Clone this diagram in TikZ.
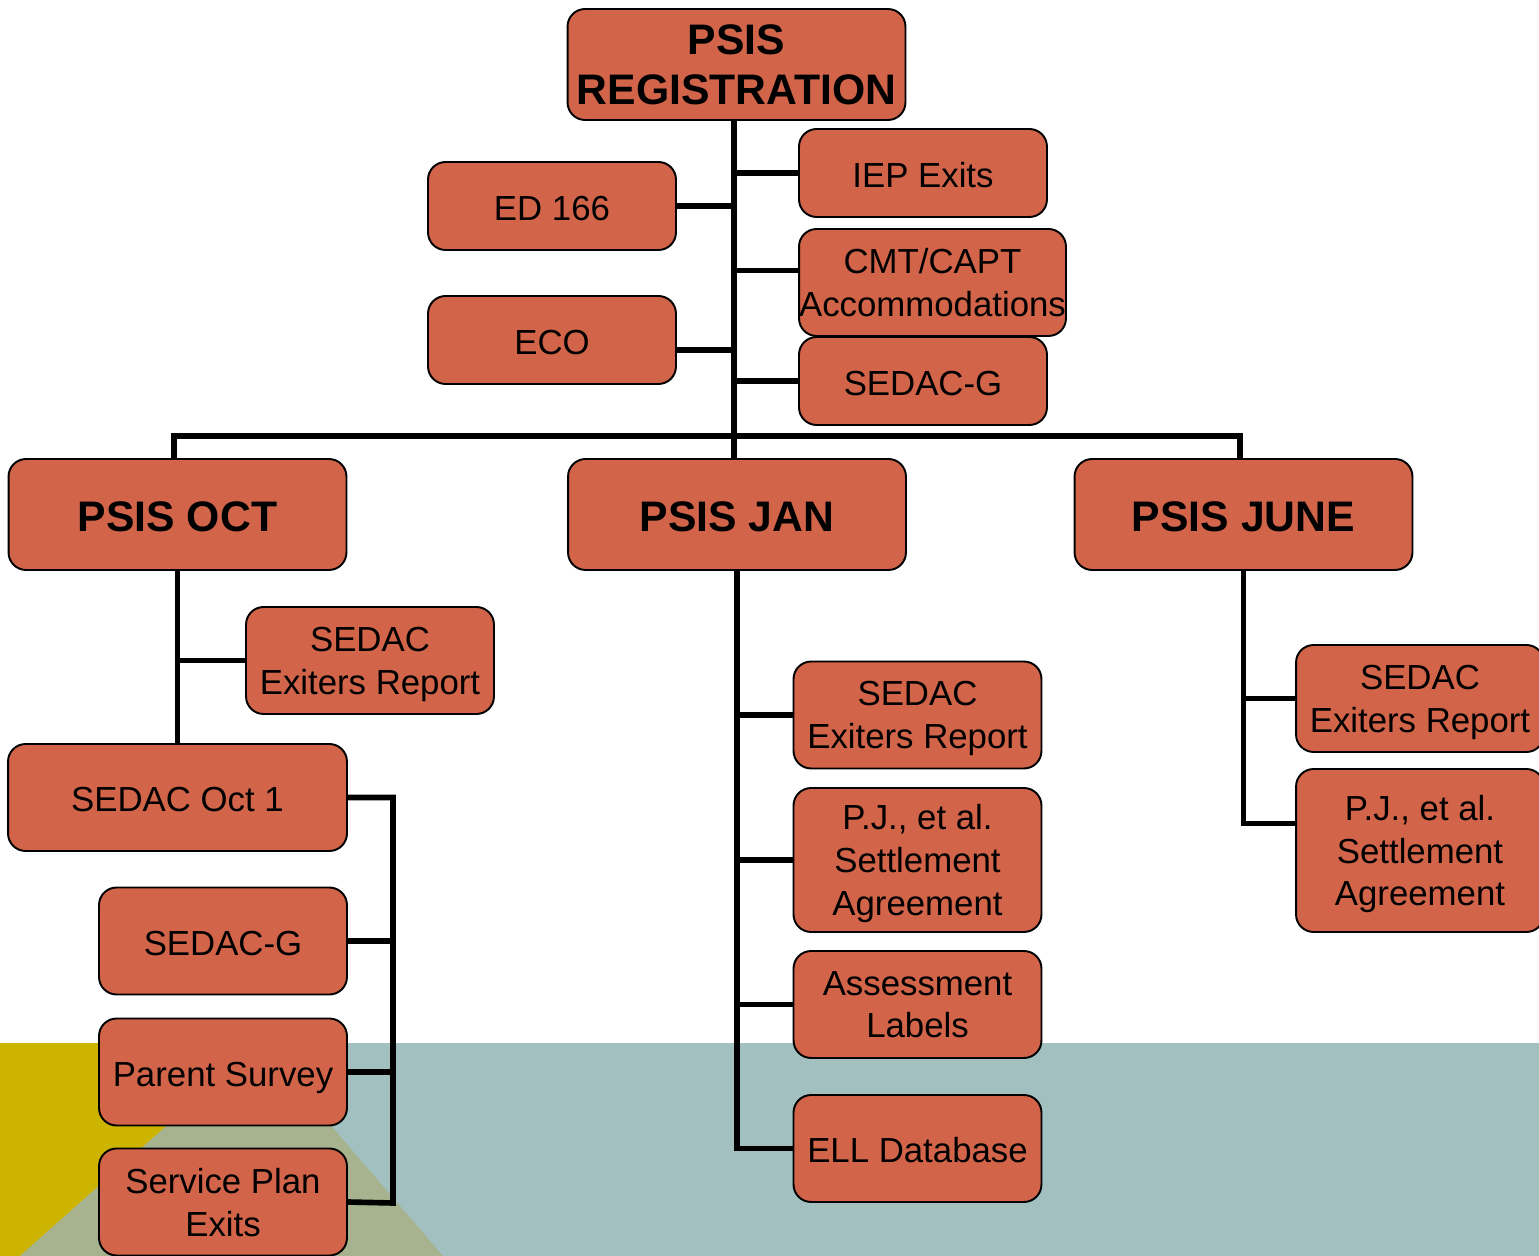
\documentclass[tikz,border=0pt]{standalone}
\usepackage{fontspec}
\setmainfont{Liberation Sans}
\usetikzlibrary{calc}
\definecolor{boxred}{HTML}{D2644A}
\definecolor{bandteal}{HTML}{A2C0C0}
\definecolor{bandyellow}{HTML}{CCB400}
\definecolor{bandgreen}{HTML}{A6B38E}
\tikzset{%
  topbox/.style={rectangle,rounded corners=10pt,draw,line width=1.1pt,fill=boxred,
    minimum width=6.76cm,minimum height=2.22cm,inner sep=0pt,align=center,
    font=\fontsize{24.3}{28.6}\selectfont\bfseries,
    execute at begin node={\rule{0pt}{19.6pt}}},
  subbox/.style={rectangle,rounded corners=10pt,draw,line width=1.1pt,fill=boxred,
    minimum width=4.96cm,minimum height=2.14cm,inner sep=0pt,align=center,
    font=\fontsize{19.8}{24.4}\selectfont,text depth=0pt,
    execute at begin node={\rule{0pt}{16pt}}},
  link/.style={line width=3.2pt}
}

\begin{document}
\begin{tikzpicture}[x=0.02cm,y=-0.02cm]
      \useasboundingbox (0,0) rectangle (1539,1256);
      % backdrop
      \fill[bandteal]   (0,1043) rectangle (1539,1256);
      \fill[bandyellow] (0,1043) -- (260,1043) -- (20,1256) -- (0,1256) -- cycle;
      \fill[bandgreen]  (260,1043) -- (20,1256) -- (443,1256) -- cycle;

      \node [topbox] (reg) at (736.5,64.5) {PSIS\\REGISTRATION};
      \node [subbox,minimum height=1.76cm] (iep)  at (923,173)   {IEP Exits};
      \node [subbox,minimum height=1.76cm] (ed)   at (552,206)   {ED 166};
      \node [subbox,minimum width=5.34cm] (cmt)   at (932.5,282.5) {CMT/CAPT\\Accommodations};
      \node [subbox,minimum height=1.76cm] (eco)  at (552,340)   {ECO};
      \node [subbox,minimum height=1.76cm] (sedg) at (923,381)   {SEDAC-G};

      \node [topbox] (oct)  at (177.5,514.5)  {PSIS OCT};
      \node [topbox] (jan)  at (737,514.5)    {PSIS JAN};
      \node [topbox] (june) at (1243.5,514.5) {PSIS JUNE};

      \node [subbox] (octexit) at (370,660.5) {SEDAC\\Exiters Report};
      \node [subbox,minimum width=6.78cm] (oct1) at (177.5,797.5) {SEDAC Oct 1};
      \node [subbox] (octg)   at (223,941)  {SEDAC-G};
      \node [subbox] (survey) at (223,1072) {Parent Survey};
      \node [subbox] (svc)    at (223,1202) {Service Plan\\Exits};

      \node [subbox] (janexit) at (917.5,715) {SEDAC\\Exiters Report};
      \node [subbox,minimum height=2.88cm] (janpj) at (917.5,860) {P.J., et al.\\Settlement\\Agreement};
      \node [subbox] (labels) at (917.5,1004.5) {Assessment\\Labels};
      \node [subbox] (ell)    at (917.5,1148.5) {ELL Database};

      \node [subbox] (juneexit) at (1420,698.5) {SEDAC\\Exiters Report};
      \node [subbox,minimum height=3.26cm] (junepj) at (1420,850.5) {P.J., et al.\\Settlement\\Agreement};

      \coordinate (bus) at (734,436);
      \coordinate (brk) at (393,1203);
      \coordinate (cmtin)  at ([yshift=0.24cm]cmt.west);
      \coordinate (ecoout) at ([yshift=-0.2cm]eco.east);
      \coordinate (junein) at ([yshift=0.54cm]junepj.west);

      \draw [link] (reg.south -| bus) -- (bus |- jan.north);
      \draw [link] ([xshift=-0.07cm]oct.north) |- (bus) -| ([xshift=-0.07cm]june.north);
      \foreach \n in {iep,sedg} \draw [link] (\n.west) -- (\n.west -| bus);
      \draw [link] (ed.east) -- (ed.east -| bus);
      \draw [link] (cmtin) -- (cmtin -| bus);
      \draw [link] (ecoout) -- (ecoout -| bus);

      \draw [link] (oct.south) -- (oct1.north);
      \draw [link] (octexit.west) -- (octexit.west -| oct.south);
      \draw [link] (oct1.east) -| (brk) -- (svc.east);
      \foreach \n in {octg,survey} \draw [link] (\n.east) -- (\n.east -| brk);

      \draw [link] (jan.south) |- (ell.west);
      \foreach \n in {janexit,janpj,labels} \draw [link] (\n.west) -- (\n.west -| jan.south);

      \draw [link] (june.south) |- (junein);
      \draw [link] (juneexit.west) -- (juneexit.west -| june.south);
\end{tikzpicture}
\end{document}
